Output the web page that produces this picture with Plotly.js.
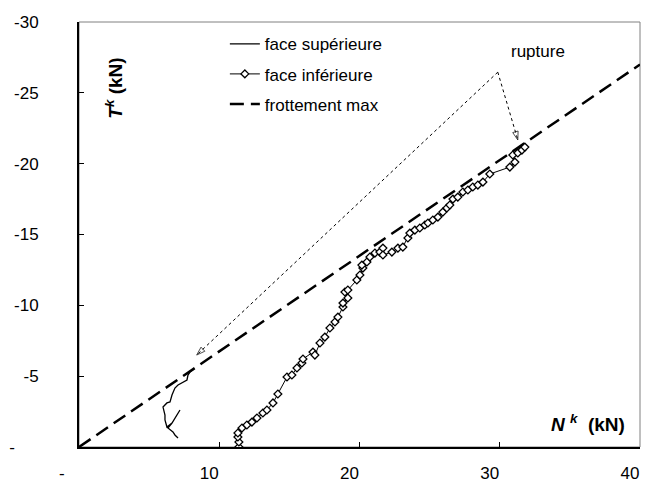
<!DOCTYPE html>
<html><head><meta charset="utf-8">
<script src="https://cdn.plot.ly/plotly-3.0.1.min.js"></script>
<style>html,body{margin:0;padding:0;background:#fff}#chart{width:648px;height:484px}</style>
</head><body><div id="chart"></div>
<script>
// face supérieure (solid line)
const supN = [7.06, 6.84, 6.70, 6.49, 6.34, 6.63, 6.84, 7.06, 7.20, 6.98, 6.63, 6.27, 6.13, 6.13, 6.06, 5.99, 6.27, 6.49, 6.63, 6.84, 7.06, 7.41, 7.70, 7.77, 7.91, 8.20];
const supT = [-0.64, -0.85, -1.06, -1.20, -1.34, -1.69, -2.05, -2.47, -2.61, -2.26, -1.69, -1.41, -1.91, -2.26, -2.47, -2.82, -3.11, -3.18, -3.67, -4.16, -4.38, -4.59, -4.73, -5.08, -5.29, -5.50];
// face inférieure (line + diamonds)
const infN = [11.40, 11.40, 11.33, 11.33, 11.62, 11.97, 12.33, 12.69, 13.11, 13.40, 13.83, 14.18, 14.83, 15.18, 15.54, 15.89, 15.97, 16.68, 16.82, 17.18, 17.53, 17.89, 18.25, 18.46, 18.82, 18.82, 19.17, 18.96, 19.17, 19.81, 20.03, 20.24, 20.17, 20.53, 20.74, 21.10, 21.45, 21.67, 21.67, 22.31, 22.74, 23.09, 23.45, 23.59, 23.95, 24.30, 24.66, 24.88, 25.23, 25.59, 25.94, 26.23, 26.44, 26.66, 27.01, 27.37, 27.73, 28.08, 28.44, 28.80, 29.29, 30.72, 31.08, 30.93, 31.29, 31.58, 31.79];
const infT = [0.00, -0.35, -0.71, -0.99, -1.34, -1.55, -1.76, -2.05, -2.40, -2.61, -3.11, -3.74, -4.94, -5.08, -5.58, -5.93, -6.21, -6.70, -6.49, -7.34, -7.76, -8.40, -8.82, -9.17, -9.88, -10.16, -10.52, -10.94, -11.08, -11.79, -12.14, -12.63, -12.84, -13.06, -13.41, -13.69, -13.76, -14.04, -13.55, -13.76, -14.04, -14.11, -14.75, -15.10, -15.31, -15.46, -15.67, -15.81, -16.02, -16.23, -16.58, -16.87, -17.08, -17.50, -17.64, -18.00, -18.14, -18.35, -18.49, -18.70, -19.27, -19.76, -20.11, -20.61, -20.75, -20.96, -21.17];
// frottement max (dashed)
const fricN = [0, 40];
const fricT = [0, -27];
// rupture arrows (apex -> tips)
const ruptureApex = [29.86, -26.46];
const ruptureTipN = [8.39, 31.29];
const ruptureTipT = [-6.49, -21.67];
const ruptureLabel = [32.7, -27.95];
// ticks
const xTickVals = [0, 10, 20, 30, 40];
const xTickText = ['-\u00a0\u00a0\u00a0', '10', '20', '30', '40'];
const yTickVals = [0, -5, -10, -15, -20, -25, -30];
const yTickText = ['-\u00a0\u00a0\u00a0\u00a0\u00a0', '-5', '-10', '-15', '-20', '-25', '-30'];

const FONT = 'Liberation Sans, Arial, sans-serif';

const traces = [
  {x: fricN, y: fricT, mode: 'lines', name: 'frottement max', legendrank: 3,
   legendgroup: 'c', line: {color: 'black', width: 2.5, dash: '14px,7px'}},
  {x: supN, y: supT, mode: 'lines', name: 'face supérieure', legendrank: 1,
   legendgroup: 'a', line: {color: 'black', width: 1.3}},
  {x: infN, y: infT, mode: 'lines+markers', name: 'face inférieure', legendrank: 2,
   legendgroup: 'b', line: {color: 'black', width: 1},
   marker: {symbol: 'diamond', size: 6, color: 'white', line: {color: 'black', width: 1.3}}}
];
for (let i = 0; i < ruptureTipN.length; i++) {
  traces.push({x: [ruptureApex[0], ruptureTipN[i]], y: [ruptureApex[1], ruptureTipT[i]],
    mode: 'lines+markers', showlegend: false, hoverinfo: 'skip',
    line: {color: 'black', width: 1, dash: 'dot'},
    marker: {symbol: 'arrow-open', size: [0, 9], angleref: 'previous', color: 'black',
             line: {color: 'black', width: 1}}});
}

const shapes = [
  {type: 'rect', xref: 'paper', yref: 'paper', x0: 0, x1: 1, y0: 0, y1: 1,
   line: {color: '#808080', width: 1}, layer: 'below'}
];
const annotations = [
  {xref: 'x', yref: 'y', x: ruptureLabel[0], y: ruptureLabel[1], text: 'rupture',
   showarrow: false, xanchor: 'center', yanchor: 'middle',
   font: {family: FONT, size: 17, color: 'black'}},
  {xref: 'paper', yref: 'paper', x: 0.062, y: 0.845, textangle: -90,
   xanchor: 'center', yanchor: 'middle',
   text: '<b><i>T</i><sup><i>k</i></sup> (kN)</b>', showarrow: false,
   font: {family: FONT, size: 19, color: 'black'}},
  {xref: 'paper', yref: 'paper', x: 0.907, y: 0.056, xanchor: 'center', yanchor: 'middle',
   text: '<b><i>N</i> <sup><i>k</i></sup>  (kN)</b>', showarrow: false,
   font: {family: FONT, size: 19, color: 'black'}}
];

const layout = {
  width: 648, height: 484,
  margin: {l: 79, r: 8, t: 22, b: 37, pad: 0},
  paper_bgcolor: 'white', plot_bgcolor: 'white',
  font: {family: FONT, size: 17, color: 'black'},
  showlegend: true,
  legend: {x: 0.26, y: 0.99, xanchor: 'left', yanchor: 'top', bgcolor: 'rgba(0,0,0,0)',
    font: {family: FONT, size: 17, color: 'black'}, traceorder: 'grouped', tracegroupgap: 5},
  xaxis: {range: [0, 40], autorange: false, showgrid: false, zeroline: false,
    showline: true, linecolor: 'black', linewidth: 2, ticks: 'inside', ticklen: 5,
    tickcolor: 'black', tickwidth: 1, tickvals: xTickVals, ticktext: xTickText,
    tickfont: {family: FONT, size: 17}, ticklabelstandoff: 10, ticklabelshift: -10},
  yaxis: {range: [0, -30], autorange: false, showgrid: false, zeroline: false,
    showline: true, linecolor: 'black', linewidth: 2, ticks: 'inside', ticklen: 5,
    tickcolor: 'black', tickwidth: 1, tickvals: yTickVals, ticktext: yTickText,
    tickfont: {family: FONT, size: 17}, ticklabelstandoff: 35},
  shapes: shapes,
  annotations: annotations
};

Plotly.newPlot('chart', traces, layout, {displayModeBar: false, staticPlot: true});
</script>
</body></html>
